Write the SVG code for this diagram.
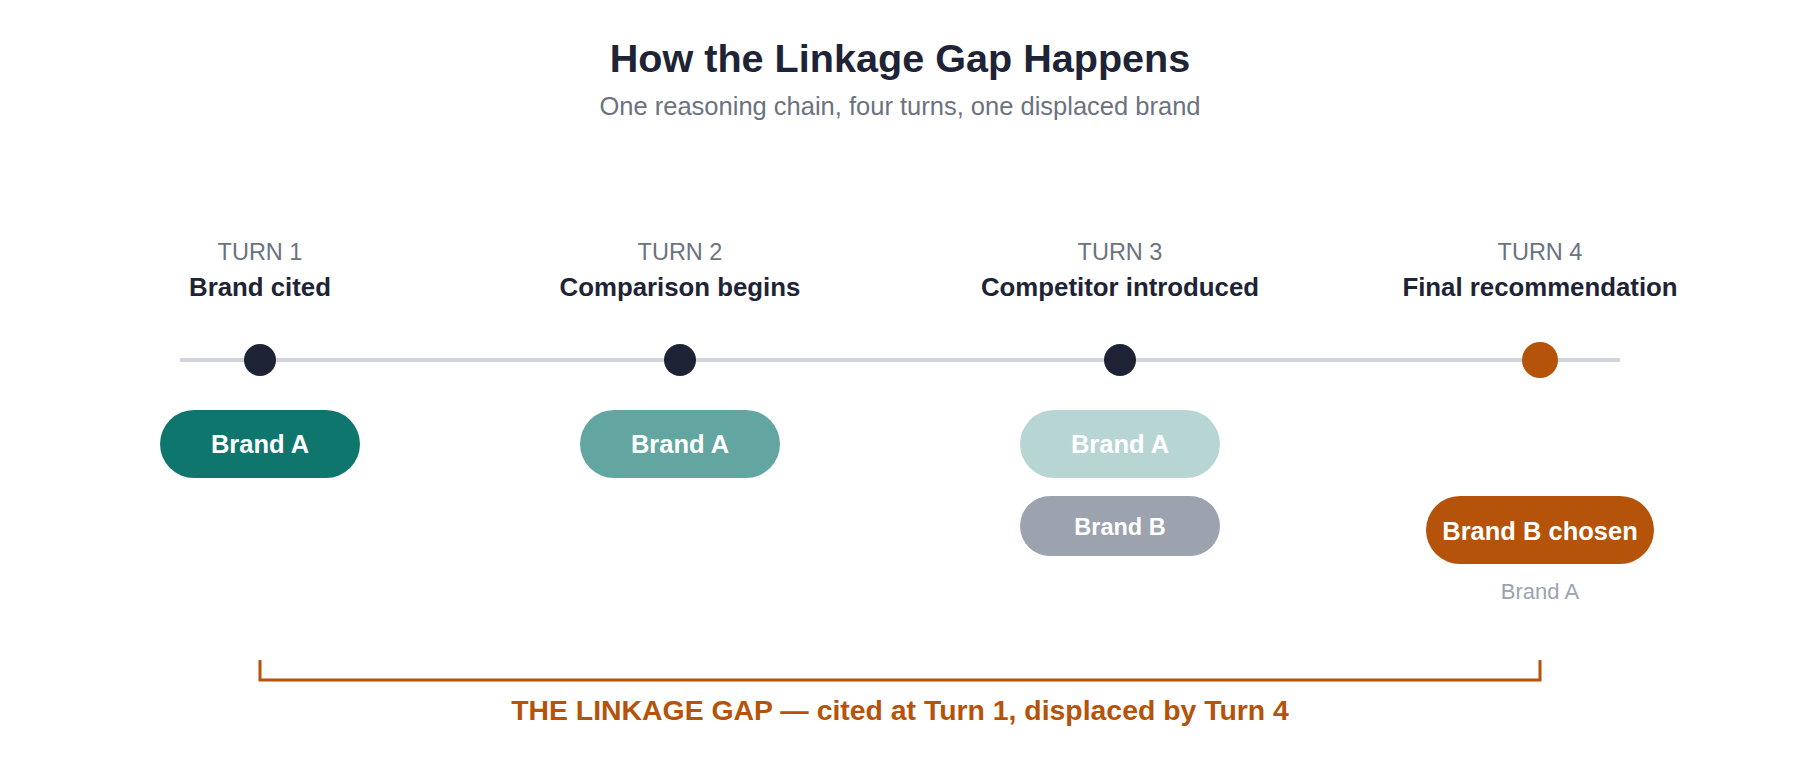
<svg xmlns="http://www.w3.org/2000/svg" width="1800" height="760" viewBox="0 0 1800 760">
<style>
text{font-family:"Liberation Sans",Arial,Helvetica,sans-serif;text-anchor:middle}
.title{font-size:39.6px;font-weight:700;fill:#1e2435}
.sub{font-size:25.5px;fill:#6b7280}
.turn{font-size:23.5px;fill:#6b7280}
.step{font-size:25.8px;font-weight:700;fill:#1e2435}
.pill{font-size:25.5px;font-weight:700;fill:#ffffff}
.pillsm{font-size:23.5px;font-weight:700;fill:#ffffff}
.ghost{font-size:22px;fill:#9ca3af}
.gap{font-size:28.4px;font-weight:700;fill:#b45309}
.dot{fill:#1e2336}
</style>
<rect width="1800" height="760" fill="#ffffff"/>
<g id="header">
<text class="title" x="900" y="72">How the Linkage Gap Happens</text>
<text class="sub" x="900" y="115">One reasoning chain, four turns, one displaced brand</text>
</g>
<g id="connectors">
<line x1="180" y1="360" x2="1620" y2="360" stroke="#d1d5db" stroke-width="4"/>
<path d="M260 660 V680 H1540 V660" fill="none" stroke="#b45309" stroke-width="3"/>
</g>
<g id="turn1">
<text class="turn" x="260" y="260">TURN 1</text>
<text class="step" x="260" y="296">Brand cited</text>
<circle class="dot" cx="260" cy="360" r="16"/>
<rect x="160" y="410" width="200" height="68" rx="34" fill="#0f766e"/>
<text class="pill" x="260" y="453">Brand A</text>
</g>
<g id="turn2">
<text class="turn" x="680" y="260">TURN 2</text>
<text class="step" x="680" y="296">Comparison begins</text>
<circle class="dot" cx="680" cy="360" r="16"/>
<rect x="580" y="410" width="200" height="68" rx="34" fill="#0f766e" fill-opacity="0.65"/>
<text class="pill" x="680" y="453">Brand A</text>
</g>
<g id="turn3">
<text class="turn" x="1120" y="260">TURN 3</text>
<text class="step" x="1120" y="296">Competitor introduced</text>
<circle class="dot" cx="1120" cy="360" r="16"/>
<rect x="1020" y="410" width="200" height="68" rx="34" fill="#0f766e" fill-opacity="0.3"/>
<text class="pill" x="1120" y="453">Brand A</text>
<rect x="1020" y="496" width="200" height="60" rx="30" fill="#9ca3af"/>
<text class="pillsm" x="1120" y="535">Brand B</text>
</g>
<g id="turn4">
<text class="turn" x="1540" y="260">TURN 4</text>
<text class="step" x="1540" y="296">Final recommendation</text>
<circle cx="1540" cy="360" r="18" fill="#b45309"/>
<rect x="1426" y="496" width="228" height="68" rx="34" fill="#b45309"/>
<text class="pill" x="1540" y="540">Brand B chosen</text>
<text class="ghost" x="1540" y="599">Brand A</text>
</g>
<g id="gap-label">
<text class="gap" x="900" y="720">THE LINKAGE GAP — cited at Turn 1, displaced by Turn 4</text>
</g>
</svg>
